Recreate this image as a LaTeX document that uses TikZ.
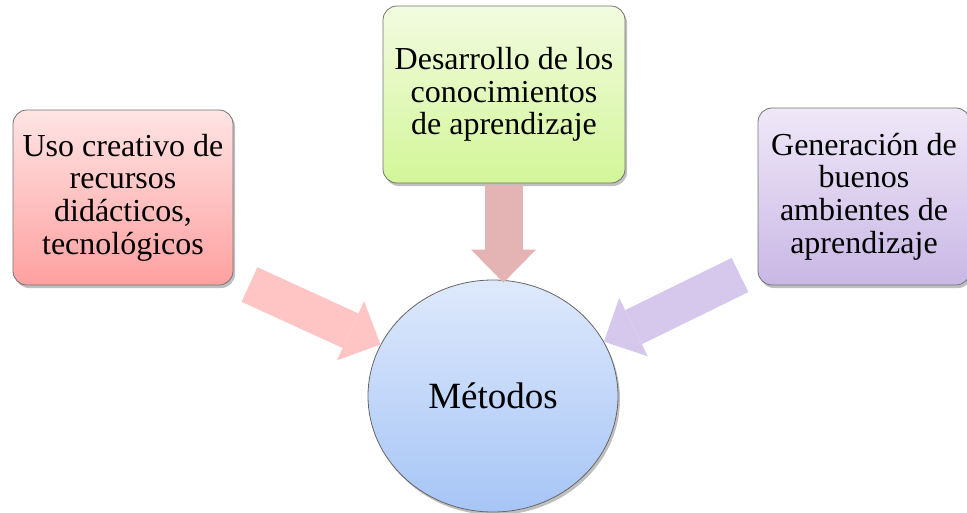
\documentclass[tikz,border=0pt]{standalone}
\usepackage{fontspec}
\setmainfont{Liberation Serif}
\usetikzlibrary{shapes.geometric,shadows,arrows.meta}
\definecolor{redtop}{RGB}{255,228,228}
\definecolor{redbot}{RGB}{255,160,160}
\definecolor{greentop}{RGB}{242,251,224}
\definecolor{greenbot}{RGB}{211,246,152}
\definecolor{violettop}{RGB}{239,232,248}
\definecolor{violetbot}{RGB}{201,183,229}
\definecolor{bluetop}{RGB}{222,233,252}
\definecolor{bluebot}{RGB}{166,197,246}
\definecolor{redarrow}{RGB}{255,196,196}
\definecolor{rosearrow}{RGB}{228,179,179}
\definecolor{violetarrow}{RGB}{214,200,236}
\begin{document}
\begin{tikzpicture}[x=1pt,y=-1pt,
	box/.style={draw=black!55, line width=0.8pt, rounded corners=14pt, align=center, inner sep=0pt,
		font=\fontsize{32}{32.7}\selectfont,
		drop shadow={shadow xshift=2pt, shadow yshift=-3pt, fill=black, opacity=0.25}},
	fat/.style={line width=38pt, -{Triangle[length=33pt, width=65pt, line width=0pt]}}]
	\useasboundingbox (0,0) rectangle (967,512);
	\node [ellipse, draw=black!60, line width=0.8pt, minimum width=250pt, minimum height=232pt, inner sep=0pt,
		top color=bluetop, bottom color=bluebot, font=\fontsize{37}{40}\selectfont,
		drop shadow={shadow xshift=2pt, shadow yshift=-3pt, fill=black, opacity=0.25}] (met) at (493,396) {Métodos};
	\node [box, top color=redtop, bottom color=redbot, minimum width=220pt, minimum height=175pt] (uso) at (123,197.5)
		{Uso creativo de\\recursos\\didácticos,\\tecnológicos};
	\node [box, top color=greentop, bottom color=greenbot, minimum width=242pt, minimum height=177pt] (des) at (504,94.5)
		{Desarrollo de los\\conocimientos\\de aprendizaje};
	\node [box, top color=violettop, bottom color=violetbot, minimum width=212pt, minimum height=177pt] (gen) at (864,196.5)
		{Generación de\\buenos\\ambientes de\\aprendizaje};
	% colas de las flechas
	\coordinate (usot) at (249.5,284.5);
	\coordinate (dest) at (503.5,185);
	\coordinate (gent) at (740,275);
	\draw [fat, redarrow] (usot) -- (met);
	\draw [fat, rosearrow, shorten >=-3pt] (dest) -- (dest |- met.north);
	\draw [fat, violetarrow] (gent) -- (met);
\end{tikzpicture}
\end{document}
